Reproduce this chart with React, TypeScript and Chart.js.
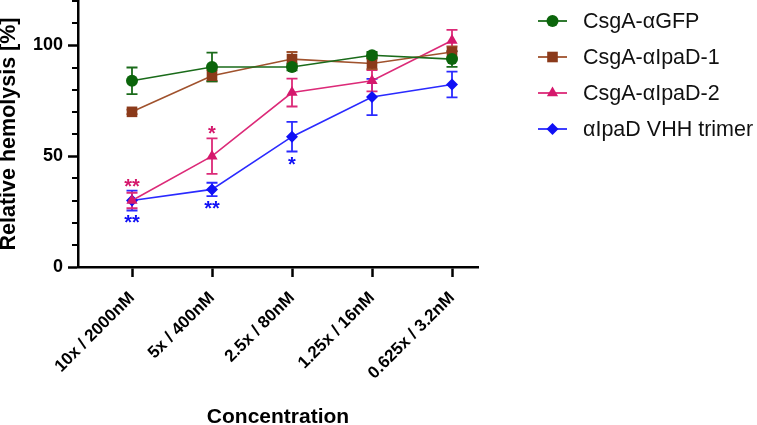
import React, { useEffect, useRef } from 'react';
import { Chart, registerables } from 'chart.js';

Chart.register(...registerables);

const categories = ['10x / 2000nM', '5x / 400nM', '2.5x / 80nM', '1.25x / 16nM', '0.625x / 3.2nM'];
const seriesNames = ['CsgA-αGFP', 'CsgA-αIpaD-1', 'CsgA-αIpaD-2', 'αIpaD VHH trimer'];
const gfpMean = [84, 90.2, 90.2, 95.5, 93.8];
const gfpErr = [6, 6.5, 1.5, 1.5, 3.5];
const ipad1Mean = [70, 86.3, 93.8, 91.8, 97];
const ipad1Err = [1, 2.5, 3.2, 2.5, 2.5];
const ipad2Mean = [30, 50, 78.7, 84, 102.2];
const ipad2Err = [3.5, 8, 6.3, 4.8, 4.8];
const vhhMean = [30, 35, 58.8, 76.7, 82.3];
const vhhErr = [4.5, 3, 6.7, 8.2, 5.8];
const yTickValues = [0, 10, 20, 30, 40, 50, 60, 70, 80, 90, 100, 110, 120];
const yLabelledTicks = [0, 50, 100];

// significance annotations
const starSeries = [2, 3, 2, 3, 3];
const starIndex = [0, 0, 1, 1, 2];
const starText = ['**', '**', '*', '**', '*'];
const starValue = [37.4, 21.2, 61.3, 27.5, 47.3];

const means = [gfpMean, ipad1Mean, ipad2Mean, vhhMean];
const errs = [gfpErr, ipad1Err, ipad2Err, vhhErr];
const markerColors = ['#0b650b', '#8b3a1a', '#d5186c', '#1010f5'];
const lineColors = ['#1a6b1a', '#a0522d', '#dc2a78', '#2a2aff'];
const pointStyles = ['circle', 'rect', 'triangle', 'rectRot'];
const pointRadii = [6, 7.5, 6.5, 6];

const FONT = "'Liberation Sans', Arial, sans-serif";

function drawMarker(ctx: CanvasRenderingContext2D, style: string, x: number, y: number, r: number, color: string) {
  ctx.save();
  ctx.fillStyle = color;
  ctx.beginPath();
  if (style === 'circle') {
    ctx.arc(x, y, r, 0, Math.PI * 2);
  } else if (style === 'rect') {
    const s = r * Math.SQRT1_2;
    ctx.rect(x - s, y - s, 2 * s, 2 * s);
  } else if (style === 'triangle') {
    ctx.moveTo(x, y - r);
    ctx.lineTo(x + r * Math.cos(Math.PI / 6), y + r * 0.5);
    ctx.lineTo(x - r * Math.cos(Math.PI / 6), y + r * 0.5);
    ctx.closePath();
  } else {
    ctx.moveTo(x, y - r);
    ctx.lineTo(x + r, y);
    ctx.lineTo(x, y + r);
    ctx.lineTo(x - r, y);
    ctx.closePath();
  }
  ctx.fill();
  ctx.restore();
}

const errorBarPlugin = {
  id: 'errorBars',
  beforeDatasetsDraw(chart: any) {
    const ctx = chart.ctx;
    const xs = chart.scales.x;
    const ys = chart.scales.y;
    ctx.save();
    for (let i = means.length - 1; i >= 0; i--) {
      ctx.strokeStyle = lineColors[i];
      ctx.lineWidth = 1.8;
      means[i].forEach((m, j) => {
        const e = errs[i][j];
        const x = xs.getPixelForValue(j);
        const yt = ys.getPixelForValue(m + e);
        const yb = ys.getPixelForValue(m - e);
        ctx.beginPath();
        ctx.moveTo(x, yt);
        ctx.lineTo(x, yb);
        ctx.moveTo(x - 5.5, yt);
        ctx.lineTo(x + 5.5, yt);
        ctx.moveTo(x - 5.5, yb);
        ctx.lineTo(x + 5.5, yb);
        ctx.stroke();
      });
    }
    ctx.restore();
  },
};

const extrasPlugin = {
  id: 'extras',
  afterDraw(chart: any) {
    const ctx = chart.ctx;
    const xs = chart.scales.x;
    const ys = chart.scales.y;
    const area = chart.chartArea;
    ctx.save();
    // minor y ticks
    ctx.strokeStyle = '#000';
    ctx.lineWidth = 2;
    ys.ticks.forEach((t: any) => {
      if (yLabelledTicks.includes(t.value)) return;
      const y = Math.round(ys.getPixelForValue(t.value));
      ctx.beginPath();
      ctx.moveTo(area.left - 6, y);
      ctx.lineTo(area.left, y);
      ctx.stroke();
    });
    // significance stars
    ctx.font = `bold 20px ${FONT}`;
    ctx.textAlign = 'center';
    ctx.textBaseline = 'middle';
    starText.forEach((s, k) => {
      ctx.fillStyle = markerColors[starSeries[k]];
      const x = xs.getPixelForValue(starIndex[k]);
      const y = ys.getPixelForValue(starValue[k]);
      ctx.fillText(s, x, y + 3);
    });
    // legend
    const lx0 = 538, lx1 = 567, tx = 583, y0 = 21, dy = 36;
    ctx.font = `21.5px ${FONT}`;
    ctx.textAlign = 'left';
    ctx.textBaseline = 'middle';
    seriesNames.forEach((name, i) => {
      const y = y0 + i * dy;
      ctx.strokeStyle = lineColors[i];
      ctx.lineWidth = 1.8;
      ctx.beginPath();
      ctx.moveTo(lx0, y);
      ctx.lineTo(lx1, y);
      ctx.stroke();
      drawMarker(ctx, pointStyles[i], (lx0 + lx1) / 2, y, pointRadii[i], markerColors[i]);
      ctx.fillStyle = '#111';
      ctx.fillText(name, tx, y + 1);
    });
    ctx.restore();
  },
};

export default function App() {
  const ref = useRef<HTMLCanvasElement | null>(null);
  useEffect(() => {
    if (!ref.current) return;
    const chart = new Chart(ref.current, {
      type: 'line',
      data: {
        datasets: seriesNames.map((name, i) => ({
          label: name,
          data: means[i].map((y, j) => ({ x: j, y })),
          borderColor: lineColors[i],
          borderWidth: 1.6,
          backgroundColor: markerColors[i],
          pointBackgroundColor: markerColors[i],
          pointBorderColor: markerColors[i],
          pointBorderWidth: 0,
          pointStyle: pointStyles[i] as any,
          pointRadius: pointRadii[i],
          tension: 0,
          fill: false,
          clip: false,
        })),
      },
      options: {
        animation: false,
        responsive: false,
        devicePixelRatio: 1,
        layout: { autoPadding: false, padding: { top: 1, right: 279, left: 0, bottom: 0 } },
        plugins: { legend: { display: false }, tooltip: { enabled: false } },
        scales: {
          x: {
            type: 'linear',
            min: -0.675,
            max: 4.325,
            afterBuildTicks: (s: any) => {
              s.ticks = categories.map((_, i) => ({ value: i }));
            },
            afterFit: (s: any) => {
              s.height = 158;
              s.paddingLeft = 0;
              s.paddingRight = 0;
            },
            grid: { drawOnChartArea: false, drawTicks: true, tickLength: 10, tickWidth: 2.5, tickColor: '#000' },
            border: { display: true, color: '#000', width: 2.5 },
            ticks: {
              autoSkip: false,
              minRotation: 45,
              maxRotation: 45,
              padding: 11,
              color: '#000',
              font: { family: FONT, size: 17, weight: 'bold' },
              callback: (v: any) => categories[v as number] ?? '',
            },
            title: {
              display: true,
              text: 'Concentration',
              color: '#000',
              font: { family: FONT, size: 21, weight: 'bold', lineHeight: 0.76 },
              padding: 0,
            },
          },
          y: {
            type: 'linear',
            min: 0,
            max: 120,
            afterBuildTicks: (s: any) => {
              s.ticks = yTickValues.map((v) => ({ value: v }));
            },
            afterFit: (s: any) => {
              s.width = 78;
              s.paddingTop = 0;
              s.paddingBottom = 0;
            },
            grid: {
              drawOnChartArea: false,
              drawTicks: true,
              tickLength: 10,
              tickWidth: 2.5,
              tickColor: (c: any) => (c.tick && yLabelledTicks.includes(c.tick.value) ? '#000' : 'rgba(0,0,0,0)'),
            },
            border: { display: true, color: '#000', width: 2.5 },
            ticks: {
              autoSkip: false,
              padding: 5,
              color: '#000',
              font: { family: FONT, size: 18, weight: 'bold' },
              callback: (v: any) => (yLabelledTicks.includes(v as number) ? String(v) : ''),
            },
            title: {
              display: true,
              text: 'Relative hemolysis [%]',
              color: '#000',
              font: { family: FONT, size: 21.5, weight: 'bold', lineHeight: 0.84 },
              padding: 0,
            },
          },
        },
      },
      plugins: [errorBarPlugin, extrasPlugin],
    } as any);
    return () => chart.destroy();
  }, []);
  return (
    <div style={{ position: 'absolute', left: 0, top: 0, width: 757, height: 425, background: '#fff' }}>
      <canvas ref={ref} width={757} height={425} />
    </div>
  );
}
